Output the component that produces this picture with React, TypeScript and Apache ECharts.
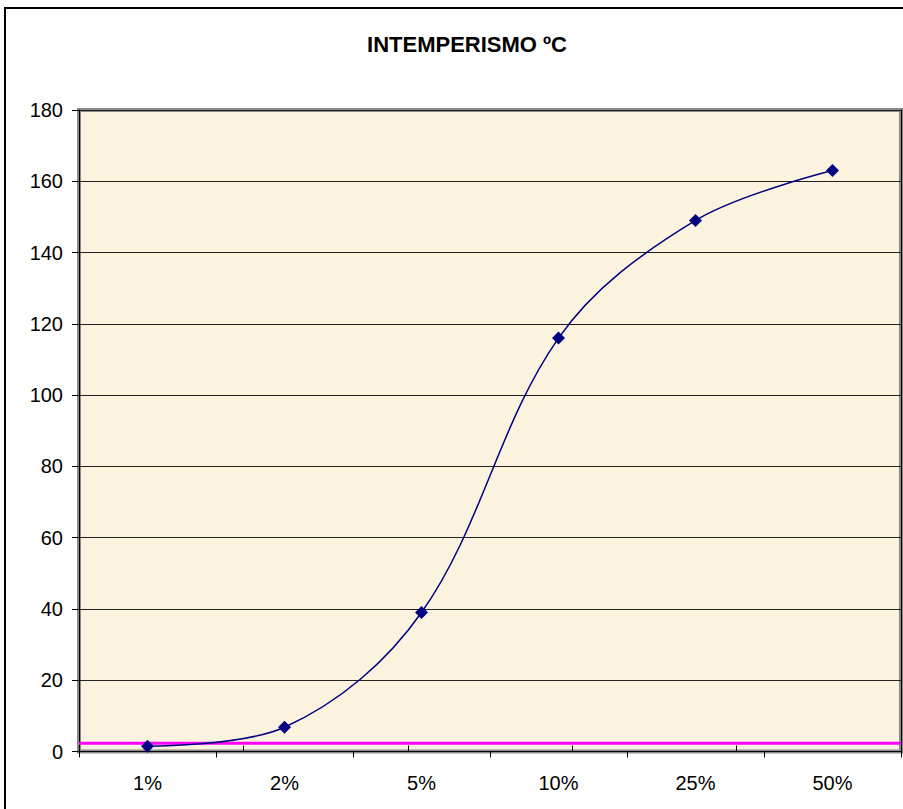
import React, { useEffect, useRef } from "react";
import * as echarts from "echarts";

const categories = ["1%", "2%", "5%", "10%", "25%", "50%"];
const values = [1.5, 6.8, 39, 116, 149, 163];
const refCategories = ["a", "b", "c", "d", "e", "f"];
const refValues = [2.3, 2.3, 2.3, 2.3, 2.3, 2.3];
const titleText = "INTEMPERISMO ºC";

export default function App() {
  const ref = useRef<HTMLDivElement>(null);
  useEffect(() => {
    const chart = echarts.init(ref.current!, undefined, { renderer: "svg" });
    const font = "Arial, 'Liberation Sans', sans-serif";
    chart.setOption({
      animation: false,
      backgroundColor: "#ffffff",
      title: {
        text: titleText,
        left: 462,
        top: 28,
        textAlign: "center",
        textStyle: { fontFamily: font, fontSize: 22, fontWeight: "bold", color: "#000" },
      },
      graphic: [
        {
          type: "rect",
          shape: { x: 5, y: 8, width: 1000, height: 1000 },
          style: { fill: "none", stroke: "#000", lineWidth: 2 },
          silent: true,
          z: 100,
        },
      ],
      grid: {
        left: 79,
        right: 2,
        top: 110,
        bottom: 57.5,
        show: true,
        backgroundColor: "#FCF3DE",
        borderColor: "#8a8a8a",
        borderWidth: 4,
        containLabel: false,
      },
      xAxis: [
        {
          type: "category",
          data: categories,
          position: "bottom",
          boundaryGap: true,
          axisLine: { show: true, lineStyle: { color: "#000", width: 1 } },
          axisTick: { show: true, length: 6, lineStyle: { color: "#000" } },
          axisLabel: { fontFamily: font, fontSize: 20, color: "#000", margin: 21 },
          splitLine: { show: false },
        },
        {
          type: "category",
          data: refCategories,
          position: "top",
          boundaryGap: false,
          axisLine: { show: true, lineStyle: { color: "#000", width: 1 } },
          axisTick: { show: true, length: 6, lineStyle: { color: "#000" } },
          axisLabel: { show: false },
          splitLine: { show: false },
        },
      ],
      yAxis: [
        {
          type: "value",
          min: 0,
          max: 180,
          interval: 20,
          axisLine: { show: true, lineStyle: { color: "#000", width: 1 } },
          axisTick: { show: true, length: 7, lineStyle: { color: "#000" } },
          axisLabel: { fontFamily: font, fontSize: 20, color: "#000", margin: 16 },
          splitLine: { show: true, lineStyle: { color: "#222", width: 1 } },
        },
        {
          type: "value",
          min: 0,
          max: 180,
          interval: 20,
          position: "right",
          axisLine: { show: true, lineStyle: { color: "#000", width: 1 } },
          axisTick: { show: false },
          axisLabel: { show: false },
          splitLine: { show: false },
        },
      ],
      series: [
        {
          type: "line",
          xAxisIndex: 1,
          yAxisIndex: 0,
          data: refValues,
          symbol: "none",
          lineStyle: { color: "#FF00FF", width: 3 },
          z: 3,
        },
        {
          type: "line",
          xAxisIndex: 0,
          yAxisIndex: 0,
          data: values,
          smooth: 0.35,
          symbol: "diamond",
          symbolSize: 13,
          itemStyle: { color: "#000080" },
          lineStyle: { color: "#000080", width: 1.5 },
          z: 4,
        },
      ],
    });
    return () => chart.dispose();
  }, []);
  return (
    <div
      ref={ref}
      style={{ position: "absolute", left: 0, top: 0, width: 903, height: 809 }}
    />
  );
}
